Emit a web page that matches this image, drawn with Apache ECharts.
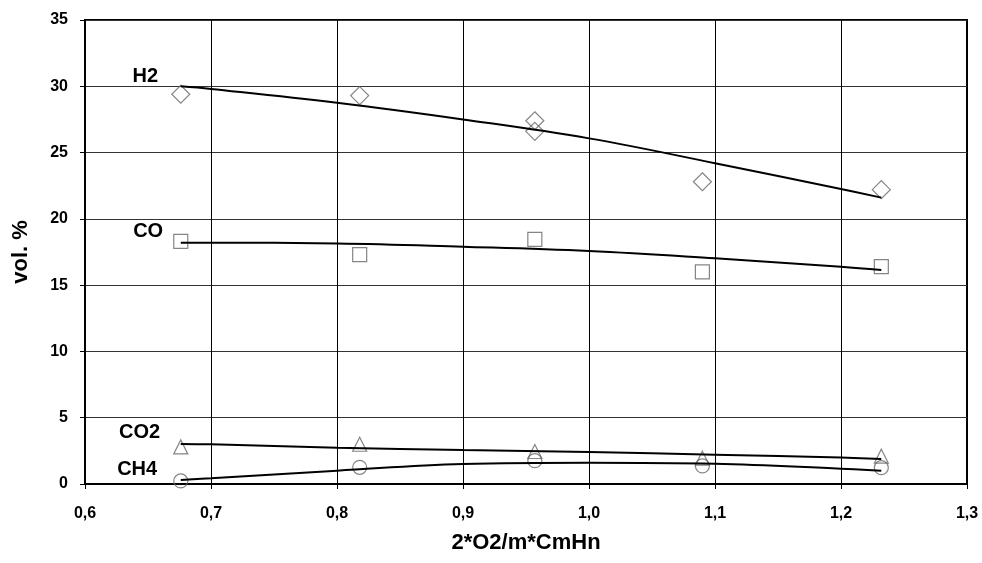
<!DOCTYPE html>
<html>
<head>
<meta charset="utf-8">
<script src="https://cdn.jsdelivr.net/npm/echarts@6/dist/echarts.min.js"></script>
<style>
html,body{margin:0;padding:0;background:#fff;}
#chart{width:982px;height:563px;}
</style>
</head>
<body>
<div id="chart"></div>
<script>
// Measured data points
var h2X = [0.676, 0.818, 0.957, 0.957, 1.090, 1.232];
var h2Y = [29.4, 29.3, 27.4, 26.6, 22.8, 22.2];
var coX = [0.676, 0.818, 0.957, 1.090, 1.232];
var coY = [18.3, 17.3, 18.45, 16.0, 16.4];
var co2X = [0.676, 0.818, 0.957, 1.090, 1.232];
var co2Y = [2.8, 3.0, 2.45, 1.95, 2.1];
var ch4X = [0.676, 0.818, 0.957, 1.090, 1.232];
var ch4Y = [0.23, 1.26, 1.76, 1.36, 1.23];

// Trend curves
var trendX = [0.676, 0.7, 0.8, 0.9, 1.0, 1.1, 1.2, 1.232];
var h2Trend = [30.0, 29.8, 28.76, 27.5, 26.07, 24.2, 22.25, 21.6];
var coTrend = [18.2, 18.2, 18.15, 17.9, 17.57, 17.02, 16.39, 16.14];
var co2Trend = [3.02, 2.99, 2.74, 2.56, 2.41, 2.21, 1.99, 1.89];
var ch4Trend = [0.30, 0.43, 1.0, 1.51, 1.61, 1.53, 1.15, 1.0];

var seriesNames = ['H2', 'CO', 'CO2', 'CH4'];
var xTitle = '2*O2/m*CmHn';
var yTitle = 'vol. %';

var FONT = 'Liberation Sans, Arial, sans-serif';

function pairs(xs, ys) { return xs.map(function (x, i) { return [x, ys[i]]; }); }

// label anchor relative to the first marker's box (right/middle aligned)
var labelPos = [[-13, -8], [-10, -2], [-13, -7], [-16, -4]];

var markerStyle = { color: 'rgba(0,0,0,0)', borderColor: '#666', borderWidth: 1.2 };
function scatter(idx, xs, ys, symbol, size) {
  var d = pairs(xs, ys);
  d[0] = {
    value: d[0],
    label: {
      show: true, position: labelPos[idx], align: 'right', verticalAlign: 'middle',
      formatter: seriesNames[idx],
      fontFamily: FONT, fontWeight: 'bold', fontSize: 20, color: '#000', opacity: 1
    }
  };
  return {
    name: seriesNames[idx], type: 'scatter', data: d, symbol: symbol, symbolSize: size,
    itemStyle: markerStyle, z: 3, silent: true, labelLayout: { hideOverlap: false }
  };
}
function trend(name, ys) {
  return {
    name: name + ' trend', type: 'line', data: pairs(trendX, ys), smooth: 0.4,
    showSymbol: false, symbol: 'none', lineStyle: { color: '#000', width: 2 }, z: 4, silent: true
  };
}

var chart = echarts.init(document.getElementById('chart'));
chart.setOption({
  animation: false,
  backgroundColor: '#fff',
  grid: { left: 85, top: 20, width: 882, height: 464, show: true, borderColor: '#000', borderWidth: 2 },
  xAxis: {
    type: 'value', min: 0.6, max: 1.3, interval: 0.1,
    name: xTitle, nameLocation: 'middle', nameGap: 48,
    nameTextStyle: { fontFamily: FONT, fontWeight: 'bold', fontSize: 22, color: '#000' },
    axisLine: { lineStyle: { color: '#000', width: 2 } },
    axisTick: { show: true, inside: false, length: 5, lineStyle: { color: '#000', width: 1 } },
    axisLabel: {
      margin: 22, color: '#000', fontFamily: FONT, fontWeight: 'bold', fontSize: 16,
      formatter: function (v) { return v.toFixed(1).replace('.', ','); }
    },
    splitLine: { show: true, lineStyle: { color: '#000', width: 1 } }
  },
  yAxis: {
    type: 'value', min: 0, max: 35, interval: 5,
    name: yTitle, nameLocation: 'middle', nameGap: 53, nameRotate: 90,
    nameTextStyle: { fontFamily: FONT, fontWeight: 'bold', fontSize: 22, color: '#000' },
    axisLine: { show: true, lineStyle: { color: '#000', width: 2 } },
    axisTick: { show: true, inside: false, length: 5, lineStyle: { color: '#000', width: 1 } },
    axisLabel: { margin: 17, color: '#000', fontFamily: FONT, fontWeight: 'bold', fontSize: 16 },
    splitLine: { show: true, lineStyle: { color: '#333', width: 1 } }
  },
  series: [
    scatter(0, h2X, h2Y, 'diamond', 18),
    scatter(1, coX, coY, 'rect', 14),
    scatter(2, co2X, co2Y, 'triangle', 14),
    scatter(3, ch4X, ch4Y, 'circle', 14),
    trend('H2', h2Trend),
    trend('CO', coTrend),
    trend('CO2', co2Trend),
    trend('CH4', ch4Trend)
  ]
});
</script>
</body>
</html>
